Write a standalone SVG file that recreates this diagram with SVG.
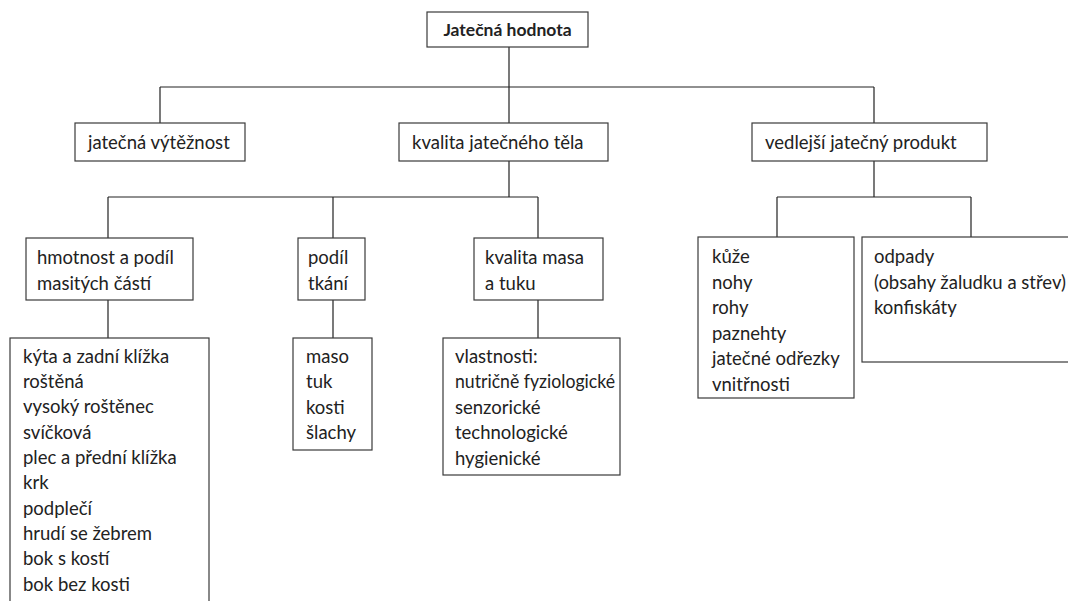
<svg xmlns="http://www.w3.org/2000/svg" width="1068" height="601" viewBox="0 0 1068 601">
<style>
.box{fill:#fff;stroke:#3a3a3a;stroke-width:1.2}
.ln{fill:none;stroke:#222;stroke-width:1.2}
text{font-family:Lato,"Open Sans","Liberation Sans",sans-serif;font-size:18.5px;fill:#222}
.b{font-weight:bold;font-size:17.5px}
</style>
<rect width="1068" height="601" fill="#fff"/>
<g id="connectors">
<path class="ln" d="M509 47V87M160 87H874M160 87V123M509 87V123M874 87V123"/>
<path class="ln" d="M509 161V197M108 197H538M108 197V238M333 197V238M538 197V238"/>
<path class="ln" d="M874 161V197M777 197H971M777 197V238M971 197V238"/>
<path class="ln" d="M108 300V338M333 300V338M538 300V338"/>
</g>
<g id="n-root"><rect class="box" x="427" y="12" width="161" height="35"/><text class="b" x="507.5" y="36" text-anchor="middle">Jatečná hodnota</text></g>
<g id="n-vytez"><rect class="box" x="75" y="123" width="170" height="38"/><text x="88" y="149">jatečná výtěžnost</text></g>
<g id="n-kvalita"><rect class="box" x="399" y="123" width="209" height="38"/><text x="412" y="149">kvalita jatečného těla</text></g>
<g id="n-vedlejsi"><rect class="box" x="752" y="123" width="235" height="38"/><text x="765" y="149">vedlejší jatečný produkt</text></g>
<g id="n-hmotnost"><rect class="box" x="26" y="238" width="167" height="62"/><text x="37" y="264">hmotnost a podíl</text><text x="37" y="290">masitých částí</text></g>
<g id="n-podil"><rect class="box" x="298" y="238" width="67" height="62"/><text x="308" y="264">podíl</text><text x="308" y="290">tkání</text></g>
<g id="n-kvmasa"><rect class="box" x="474" y="238" width="129" height="62"/><text x="485" y="264">kvalita masa</text><text x="485" y="290">a tuku</text></g>
<g id="n-casti"><rect class="box" x="10" y="338" width="199" height="275"/>
<text x="23" y="363">kýta a zadní klížka</text>
<text x="23" y="388">roštěná</text>
<text x="23" y="413">vysoký roštěnec</text>
<text x="23" y="439">svíčková</text>
<text x="23" y="464">plec a přední klížka</text>
<text x="23" y="489">krk</text>
<text x="23" y="515">podplečí</text>
<text x="23" y="540">hrudí se žebrem</text>
<text x="23" y="565">bok s kostí</text>
<text x="23" y="591">bok bez kosti</text>
</g>
<g id="n-tkane"><rect class="box" x="293" y="338" width="79" height="112"/>
<text x="306" y="363">maso</text>
<text x="306" y="388">tuk</text>
<text x="306" y="414">kosti</text>
<text x="306" y="439">šlachy</text>
</g>
<g id="n-vlastnosti"><rect class="box" x="443" y="338" width="177" height="137"/>
<text x="455" y="363">vlastnosti:</text>
<text x="455" y="388" textLength="160" lengthAdjust="spacingAndGlyphs">nutričně fyziologické</text>
<text x="455" y="414">senzorické</text>
<text x="455" y="439">technologické</text>
<text x="455" y="465">hygienické</text>
</g>
<g id="n-kuze"><rect class="box" x="698" y="237" width="156" height="161"/>
<text x="712" y="263">kůže</text>
<text x="712" y="289">nohy</text>
<text x="712" y="314">rohy</text>
<text x="712" y="340">paznehty</text>
<text x="712" y="365">jatečné odřezky</text>
<text x="712" y="391">vnitřnosti</text>
</g>
<g id="n-odpady"><rect class="box" x="862" y="237" width="220" height="125"/>
<text x="874" y="263">odpady</text>
<text x="874" y="289">(obsahy žaludku a střev)</text>
<text x="874" y="314">konfiskáty</text>
</g>
</svg>
